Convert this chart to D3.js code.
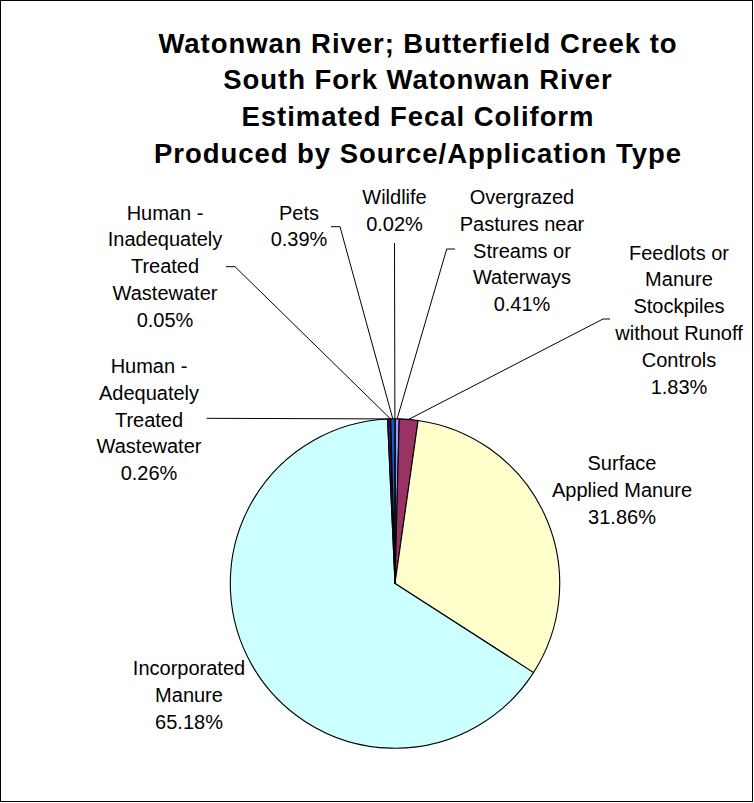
<!DOCTYPE html>
<html>
<head>
<meta charset="utf-8">
<script src="https://cdn.jsdelivr.net/npm/d3@7"></script>
<style>
  html, body { margin: 0; padding: 0; background: #fff; }
  svg { display: block; }
  text { font-family: "Liberation Sans", Arial, sans-serif; fill: #000; }
</style>
</head>
<body>
<svg id="chart" width="754" height="803"></svg>
<script>
// ---- Data ----
const titleLines = [
  "Watonwan River; Butterfield Creek to",
  "South Fork Watonwan River",
  "Estimated Fecal Coliform",
  "Produced by Source/Application Type"
];
const categories = [
  "Overgrazed Pastures near Streams or Waterways",
  "Feedlots or Manure Stockpiles without Runoff Controls",
  "Surface Applied Manure",
  "Incorporated Manure",
  "Human - Adequately Treated Wastewater",
  "Human - Inadequately Treated Wastewater",
  "Pets",
  "Wildlife"
];
const labelLines = [
  ["Overgrazed", "Pastures near", "Streams or", "Waterways"],
  ["Feedlots or", "Manure", "Stockpiles", "without Runoff", "Controls"],
  ["Surface", "Applied Manure"],
  ["Incorporated", "Manure"],
  ["Human -", "Adequately", "Treated", "Wastewater"],
  ["Human -", "Inadequately", "Treated", "Wastewater"],
  ["Pets"],
  ["Wildlife"]
];
const values = [0.41, 1.83, 31.86, 65.18, 0.26, 0.05, 0.39, 0.02];

// ---- Styles / layout ----
const palette = ["#9999FF", "#993366", "#FFFFCC", "#CCFFFF", "#660066", "#FF8080", "#0066CC", "#CCCCFF"];
const W = 754, H = 803;
const cx = 395, cy = 583.5, R = 164.7;
// label layout: centre x, first baseline y, leader points (label side first)
const labelLayout = [
  { x: 522, y: 204, leader: [[455, 249], [446.7, 249]] },
  { x: 679, y: 259.5, leader: [[610, 319], [603, 319]] },
  { x: 622, y: 470, leader: null },
  { x: 189, y: 675, leader: null },
  { x: 149, y: 373, leader: [[206.7, 418.3]] },
  { x: 165, y: 219.5, leader: [[226, 266.7], [235, 266.7]] },
  { x: 299, y: 219.5, leader: [[331, 226.7], [340, 226.7]] },
  { x: 394.5, y: 204, leader: [[394.5, 243]] }
];
const lineH = 26.8;

const svg = d3.select("#chart");

svg.append("rect")
  .attr("x", 0.5).attr("y", 0.5)
  .attr("width", W - 2).attr("height", H - 2)
  .attr("fill", "#fff").attr("stroke", "#000").attr("stroke-width", 1);

// Title
svg.append("g").selectAll("text")
  .data(titleLines)
  .join("text")
  .attr("x", 418)
  .attr("y", (d, i) => 52.5 + i * 36.8)
  .attr("text-anchor", "middle")
  .style("font-size", "27.5px")
  .style("font-weight", "bold")
  .style("letter-spacing", "0.95px")
  .text(d => d);

// Pie
const data = categories.map((c, i) => ({ cat: c, value: values[i], i }));
const pie = d3.pie().sort(null).value(d => d.value).startAngle(0).endAngle(2 * Math.PI);
const arcs = pie(data);
const arc = d3.arc().innerRadius(0).outerRadius(R);
const edgeArc = d3.arc().innerRadius(R).outerRadius(R);

const g = svg.append("g").attr("transform", `translate(${cx},${cy})`);
g.selectAll("path")
  .data(arcs)
  .join("path")
  .attr("d", arc)
  .attr("fill", d => palette[d.data.i])
  .attr("stroke", "#000")
  .attr("stroke-width", 1.1)
  .attr("stroke-linejoin", "round");

// Leader lines
const leaders = svg.append("g");
arcs.forEach(a => {
  const lay = labelLayout[a.data.i];
  if (!lay.leader) return;
  const [ex, ey] = edgeArc.centroid(a);
  const pts = lay.leader.concat([[cx + ex, cy + ey]]);
  leaders.append("path")
    .attr("d", d3.line()(pts))
    .attr("fill", "none")
    .attr("stroke", "#000")
    .attr("stroke-width", 1);
});

// Labels
const fmt = v => v.toFixed(2) + "%";
const labels = svg.append("g");
data.forEach(d => {
  const lay = labelLayout[d.i];
  const lines = labelLines[d.i].concat([fmt(d.value)]);
  const t = labels.append("text")
    .attr("text-anchor", "middle")
    .style("font-size", "20px");
  lines.forEach((ln, k) => {
    t.append("tspan")
      .attr("x", lay.x)
      .attr("y", lay.y + k * lineH)
      .text(ln);
  });
});
</script>
</body>
</html>
